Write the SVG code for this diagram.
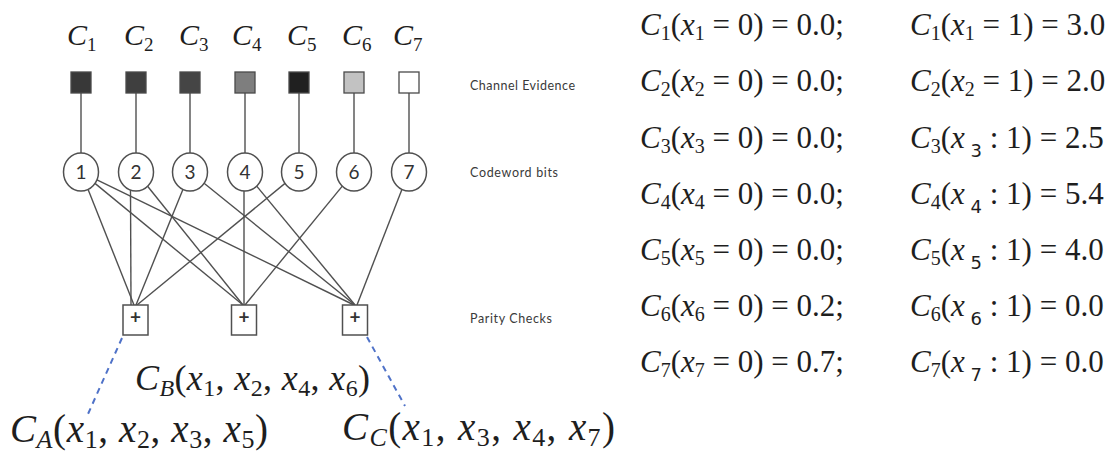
<svg xmlns="http://www.w3.org/2000/svg" width="1115" height="459" viewBox="0 0 1115 459">
<style>
.m{font-family:"Liberation Serif","Times New Roman",serif;fill:#1e1e1e}
.i{font-style:italic}
.lbl{font-family:Lato,"Open Sans",sans-serif;font-size:12.5px;fill:#3a3a3a}
.ev{stroke:#4a4a4a;stroke-width:1.3}
.e{stroke:#505050;stroke-width:1.4;fill:none}
.bit{fill:#fff;stroke:#505050;stroke-width:1.5}
.bn{font-family:Lato,"Open Sans",sans-serif;font-size:19px;fill:#333;text-anchor:middle}
.chk{fill:#fff;stroke:#505050;stroke-width:1.5}
.dash{stroke:#4f72c8;stroke-width:2;stroke-dasharray:6 5;fill:none}
.ss{font-family:"DejaVu Sans","Liberation Sans",sans-serif}
</style>
<rect width="1115" height="459" fill="#fff"/>

<g id="connectors">
<line class="e" x1="81" y1="93" x2="81" y2="153"/>
<line class="e" x1="136" y1="93" x2="136" y2="153"/>
<line class="e" x1="190" y1="93" x2="190" y2="153"/>
<line class="e" x1="245" y1="93" x2="245" y2="153"/>
<line class="e" x1="299" y1="93" x2="299" y2="153"/>
<line class="e" x1="354" y1="93" x2="354" y2="153"/>
<line class="e" x1="409" y1="93" x2="409" y2="153"/>
<line class="e" x1="88.1" y1="189.4" x2="134" y2="305"/>
<line class="e" x1="95" y1="183.4" x2="243" y2="305"/>
<line class="e" x1="97" y1="179.8" x2="354" y2="305"/>
<line class="e" x1="130.5" y1="190" x2="131" y2="305"/>
<line class="e" x1="147.6" y1="186.2" x2="243" y2="305"/>
<line class="e" x1="182.9" y1="189.4" x2="136" y2="305"/>
<line class="e" x1="204.1" y1="183.3" x2="355" y2="305"/>
<line class="e" x1="244" y1="191" x2="244" y2="305"/>
<line class="e" x1="256.7" y1="186.1" x2="355" y2="305"/>
<line class="e" x1="285" y1="183.4" x2="137" y2="305"/>
<line class="e" x1="342.3" y1="186.1" x2="245" y2="305"/>
<line class="e" x1="401.9" y1="189.4" x2="357" y2="305"/>
<line class="dash" x1="122" y1="338" x2="88" y2="414"/>
<line class="dash" x1="367" y1="337" x2="405" y2="406"/>
</g>

<g id="labels-C">
<text class="m i" x="67" y="45" font-size="30">C<tspan font-style="normal" font-size="19" dy="6">1</tspan></text>
<text class="m i" x="124" y="45" font-size="30">C<tspan font-style="normal" font-size="19" dy="6">2</tspan></text>
<text class="m i" x="179" y="45" font-size="30">C<tspan font-style="normal" font-size="19" dy="6">3</tspan></text>
<text class="m i" x="232" y="45" font-size="30">C<tspan font-style="normal" font-size="19" dy="6">4</tspan></text>
<text class="m i" x="287" y="45" font-size="30">C<tspan font-style="normal" font-size="19" dy="6">5</tspan></text>
<text class="m i" x="342" y="45" font-size="30">C<tspan font-style="normal" font-size="19" dy="6">6</tspan></text>
<text class="m i" x="393" y="45" font-size="30">C<tspan font-style="normal" font-size="19" dy="6">7</tspan></text>
</g>

<g id="evidence">
<rect class="ev" x="71" y="72" width="20" height="21" fill="#383838"/>
<rect class="ev" x="126" y="72" width="20" height="21" fill="#3f3f3f"/>
<rect class="ev" x="180" y="72" width="20" height="21" fill="#454545"/>
<rect class="ev" x="235" y="72" width="20" height="21" fill="#7e7e7e"/>
<rect class="ev" x="289" y="72" width="20" height="21" fill="#202020"/>
<rect class="ev" x="344" y="72" width="20" height="21" fill="#c2c2c2"/>
<rect class="ev" x="399" y="72" width="20" height="21" fill="#ffffff"/>
</g>

<g id="bit1"><ellipse class="bit" cx="81" cy="172" rx="17.5" ry="19"/><text class="bn" x="81" y="179">1</text></g>
<g id="bit2"><ellipse class="bit" cx="136" cy="172" rx="17.5" ry="19"/><text class="bn" x="136" y="179">2</text></g>
<g id="bit3"><ellipse class="bit" cx="190" cy="172" rx="17.5" ry="19"/><text class="bn" x="190" y="179">3</text></g>
<g id="bit4"><ellipse class="bit" cx="245" cy="172" rx="17.5" ry="19"/><text class="bn" x="245" y="179">4</text></g>
<g id="bit5"><ellipse class="bit" cx="299" cy="172" rx="17.5" ry="19"/><text class="bn" x="299" y="179">5</text></g>
<g id="bit6"><ellipse class="bit" cx="354" cy="172" rx="17.5" ry="19"/><text class="bn" x="354" y="179">6</text></g>
<g id="bit7"><ellipse class="bit" cx="409" cy="172" rx="17.5" ry="19"/><text class="bn" x="409" y="179">7</text></g>

<g id="checkA"><rect class="chk" x="123" y="305" width="25" height="30"/><text class="bn" x="135.5" y="324" font-size="12" font-weight="bold">+</text></g>
<g id="checkB"><rect class="chk" x="231.5" y="305" width="25" height="30"/><text class="bn" x="244" y="324" font-size="12" font-weight="bold">+</text></g>
<g id="checkC"><rect class="chk" x="342.5" y="305" width="25" height="30"/><text class="bn" x="355" y="324" font-size="12" font-weight="bold">+</text></g>

<g id="row-labels">
<text class="lbl" x="470" y="90" textLength="105">Channel Evidence</text>
<text class="lbl" x="470" y="177" textLength="88">Codeword bits</text>
<text class="lbl" x="470" y="323" textLength="82">Parity Checks</text>
</g>

<g id="factor-labels">
<text class="m" x="10" y="442" font-size="39" textLength="258"><tspan class="i">C</tspan><tspan class="i" font-size="26" dy="6">A</tspan><tspan dy="-6">(</tspan><tspan class="i">x</tspan><tspan font-size="26" dy="6">1</tspan><tspan dy="-6">, </tspan><tspan class="i">x</tspan><tspan font-size="26" dy="6">2</tspan><tspan dy="-6">, </tspan><tspan class="i">x</tspan><tspan font-size="26" dy="6">3</tspan><tspan dy="-6">, </tspan><tspan class="i">x</tspan><tspan font-size="26" dy="6">5</tspan><tspan dy="-6">)</tspan></text>
<text class="m" x="135" y="390" font-size="36" textLength="235"><tspan class="i">C</tspan><tspan class="i" font-size="24" dy="6">B</tspan><tspan dy="-6">(</tspan><tspan class="i">x</tspan><tspan font-size="24" dy="6">1</tspan><tspan dy="-6">, </tspan><tspan class="i">x</tspan><tspan font-size="24" dy="6">2</tspan><tspan dy="-6">, </tspan><tspan class="i">x</tspan><tspan font-size="24" dy="6">4</tspan><tspan dy="-6">, </tspan><tspan class="i">x</tspan><tspan font-size="24" dy="6">6</tspan><tspan dy="-6">)</tspan></text>
<text class="m" x="342" y="440" font-size="39" textLength="273"><tspan class="i">C</tspan><tspan class="i" font-size="26" dy="6">C</tspan><tspan dy="-6">(</tspan><tspan class="i">x</tspan><tspan font-size="26" dy="6">1</tspan><tspan dy="-6">, </tspan><tspan class="i">x</tspan><tspan font-size="26" dy="6">3</tspan><tspan dy="-6">, </tspan><tspan class="i">x</tspan><tspan font-size="26" dy="6">4</tspan><tspan dy="-6">, </tspan><tspan class="i">x</tspan><tspan font-size="26" dy="6">7</tspan><tspan dy="-6">)</tspan></text>
</g>

<g id="table" font-size="31">
<text class="m" x="640" y="35"><tspan class="i">C</tspan><tspan font-size="20" dy="5">1</tspan><tspan dy="-5">(</tspan><tspan class="i">x</tspan><tspan font-size="20" dy="5">1</tspan><tspan dy="-5"> = 0) = 0.0;</tspan></text>
<text class="m" x="640" y="91"><tspan class="i">C</tspan><tspan font-size="20" dy="5">2</tspan><tspan dy="-5">(</tspan><tspan class="i">x</tspan><tspan font-size="20" dy="5">2</tspan><tspan dy="-5"> = 0) = 0.0;</tspan></text>
<text class="m" x="640" y="148"><tspan class="i">C</tspan><tspan font-size="20" dy="5">3</tspan><tspan dy="-5">(</tspan><tspan class="i">x</tspan><tspan font-size="20" dy="5">3</tspan><tspan dy="-5"> = 0) = 0.0;</tspan></text>
<text class="m" x="640" y="204"><tspan class="i">C</tspan><tspan font-size="20" dy="5">4</tspan><tspan dy="-5">(</tspan><tspan class="i">x</tspan><tspan font-size="20" dy="5">4</tspan><tspan dy="-5"> = 0) = 0.0;</tspan></text>
<text class="m" x="640" y="260"><tspan class="i">C</tspan><tspan font-size="20" dy="5">5</tspan><tspan dy="-5">(</tspan><tspan class="i">x</tspan><tspan font-size="20" dy="5">5</tspan><tspan dy="-5"> = 0) = 0.0;</tspan></text>
<text class="m" x="640" y="316"><tspan class="i">C</tspan><tspan font-size="20" dy="5">6</tspan><tspan dy="-5">(</tspan><tspan class="i">x</tspan><tspan font-size="20" dy="5">6</tspan><tspan dy="-5"> = 0) = 0.2;</tspan></text>
<text class="m" x="640" y="372"><tspan class="i">C</tspan><tspan font-size="20" dy="5">7</tspan><tspan dy="-5">(</tspan><tspan class="i">x</tspan><tspan font-size="20" dy="5">7</tspan><tspan dy="-5"> = 0) = 0.7;</tspan></text>

<text class="m" x="910" y="35"><tspan class="i">C</tspan><tspan font-size="20" dy="5">1</tspan><tspan dy="-5">(</tspan><tspan class="i">x</tspan><tspan font-size="20" dy="5">1</tspan><tspan dy="-5"> = 1) = 3.0</tspan></text>
<text class="m" x="910" y="91"><tspan class="i">C</tspan><tspan font-size="20" dy="5">2</tspan><tspan dy="-5">(</tspan><tspan class="i">x</tspan><tspan font-size="20" dy="5">2</tspan><tspan dy="-5"> = 1) = 2.0</tspan></text>
<text class="m" x="910" y="148"><tspan class="i">C</tspan><tspan font-size="20" dy="5">3</tspan><tspan dy="-5">(</tspan><tspan class="i">x</tspan><tspan class="ss" font-size="18" dy="9"> 3</tspan><tspan dy="-9"> : 1) = 2.5</tspan></text>
<text class="m" x="910" y="204"><tspan class="i">C</tspan><tspan font-size="20" dy="5">4</tspan><tspan dy="-5">(</tspan><tspan class="i">x</tspan><tspan class="ss" font-size="18" dy="9"> 4</tspan><tspan dy="-9"> : 1) = 5.4</tspan></text>
<text class="m" x="910" y="260"><tspan class="i">C</tspan><tspan font-size="20" dy="5">5</tspan><tspan dy="-5">(</tspan><tspan class="i">x</tspan><tspan class="ss" font-size="18" dy="9"> 5</tspan><tspan dy="-9"> : 1) = 4.0</tspan></text>
<text class="m" x="910" y="316"><tspan class="i">C</tspan><tspan font-size="20" dy="5">6</tspan><tspan dy="-5">(</tspan><tspan class="i">x</tspan><tspan class="ss" font-size="18" dy="9"> 6</tspan><tspan dy="-9"> : 1) = 0.0</tspan></text>
<text class="m" x="910" y="372"><tspan class="i">C</tspan><tspan font-size="20" dy="5">7</tspan><tspan dy="-5">(</tspan><tspan class="i">x</tspan><tspan class="ss" font-size="18" dy="9"> 7</tspan><tspan dy="-9"> : 1) = 0.0</tspan></text>
</g>
</svg>
